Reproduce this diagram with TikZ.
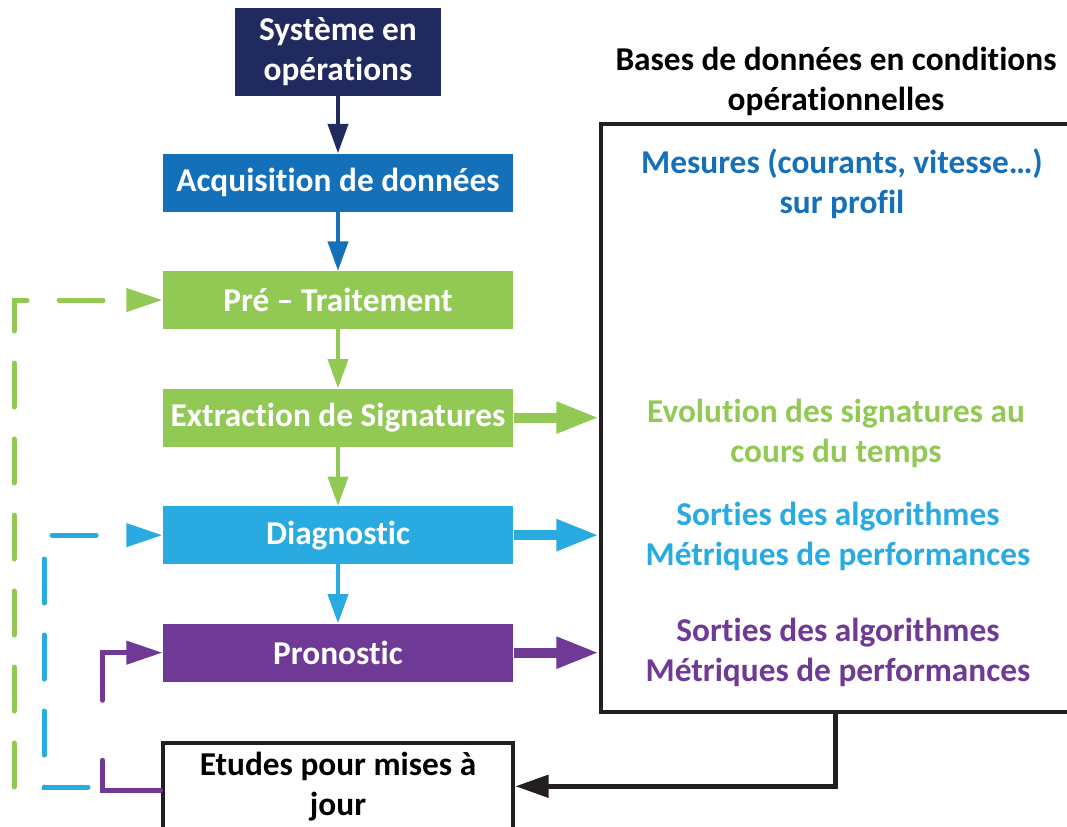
\documentclass[tikz,border=0pt]{standalone}
\usepackage{fontspec}
\setmainfont{Carlito}[Ligatures={NoCommon}]
\usepackage{tikz}
\usetikzlibrary{positioning}
\usetikzlibrary{arrows.meta}
\definecolor{cNavy}{RGB}{32,42,94}
\definecolor{cBlue}{RGB}{21,112,186}
\definecolor{cGreen}{RGB}{146,201,85}
\definecolor{cCyan}{RGB}{41,171,226}
\definecolor{cPurple}{RGB}{111,57,150}
\definecolor{cBlack}{RGB}{35,31,32}
\tikzstyle{block} = [rectangle, text centered, text=white, inner sep=0pt, minimum width=263pt, minimum height=43.5pt, font=\bfseries\fontsize{25}{30}\selectfont]
\tikzstyle{label} = [draw=none, fill=none, align=center, font=\bfseries\fontsize{25}{30}\selectfont]
\tikzstyle{dbase} = [rectangle, draw=cBlack, line width=3pt, minimum width=351.75pt, minimum height=441pt]
\tikzstyle{vflow} = [draw, line width=3pt, -{Triangle[length=22pt,width=15pt]}]
\tikzstyle{hflow} = [draw, line width=7.5pt, -{Triangle[length=32pt,width=22pt]}]
\tikzstyle{retour} = [draw=cBlack, line width=3.75pt, -{Triangle[length=25pt,width=16.5pt]}]
\tikzstyle{dashg} = [draw, line width=3.75pt, line cap=round, dash pattern=on 33pt off 24pt, -{Triangle[length=27pt,width=17pt]}]
\tikzstyle{dashp} = [draw, line width=3.75pt, line cap=round, dash pattern=on 66pt off 45pt, -{Triangle[length=27pt,width=17pt]}]

\begin{document}
\begin{tikzpicture}[x=0.75pt, y=-0.75pt]
	\useasboundingbox (0,0) rectangle (1067,827);

	% place nodes
	\node [block, fill=cNavy, align=center, minimum width=154.5pt, minimum height=66pt] (N0) at (338,52) {Système en\\opérations};
	\node [block, fill=cBlue, below=42.75pt of N0]   (N1) {Acquisition de données};
	\node [block, fill=cGreen, below=44.25pt of N1]  (N2) {Pré -- Traitement};
	\node [block, fill=cGreen, below=44.25pt of N2]  (N3) {Extraction de Signatures};
	\node [block, fill=cCyan, below=44.25pt of N3]   (N4) {Diagnostic};
	\node [block, fill=cPurple, below=44.25pt of N4] (N5) {Pronostic};
	\node [block, fill=white, draw=cBlack, line width=3pt, text=black, align=center, minimum height=65pt, below=44.25pt of N5] (N6) {Etudes pour mises à\\jour};

	% database
	\node [dbase] (DB) at (835.5,418) {};
	\node [label] (T0) at (836,81) {Bases de données en conditions\\opérationnelles};
	\node [label, text=cBlue]   (T1) at (842,184)   {Mesures (courants, vitesse…)\\sur profil};
	\node [label, text=cGreen]  (T2) at (836,433)   {Evolution des signatures au\\cours du temps};
	\node [label, text=cCyan]   (T3) at (838,536)   {Sorties des algorithmes\\Métriques de performances};
	\node [label, text=cPurple] (T4) at (838,652.5) {Sorties des algorithmes\\Métriques de performances};

	% draw edges
	\path [vflow, cNavy]  (N0) -- (N1);
	\path [vflow, cBlue]  (N1) -- (N2);
	\path [vflow, cGreen] (N2) -- (N3);
	\path [vflow, cGreen] (N3) -- (N4);
	\path [vflow, cCyan]  (N4) -- (N5);
	\path [hflow, cGreen]  (N3.east) -- (N3.east -| DB.west);
	\path [hflow, cCyan]   (N4.east) -- (N4.east -| DB.west);
	\path [hflow, cPurple] (N5.east) -- (N5.east -| DB.west);
	\path [retour] (DB.south) |- (N6.east);

	% feedback
	\coordinate (G0) at (14,787);
	\coordinate (C0) at (88,787);
	\path [dashg, cGreen] (G0) |- (N2.west);
	\path [dashg, cCyan]  (C0) -- ++(-44,0) |- (N4.west);
	\path [dashp, cPurple] ([yshift=-3pt]N6.west) -- ++(-58,0) |- (N5.west);
\end{tikzpicture}
\end{document}
